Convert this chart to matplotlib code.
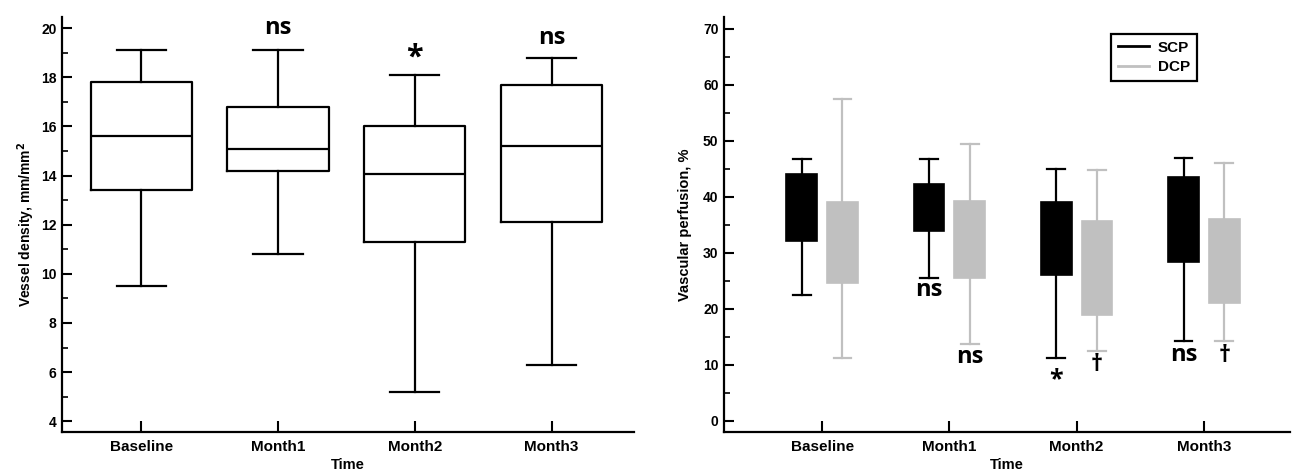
import matplotlib
matplotlib.use("Agg")
import matplotlib.pyplot as plt
from matplotlib.lines import Line2D
from matplotlib.ticker import MultipleLocator

plt.rcParams['font.family'] = ['Liberation Sans', 'DejaVu Sans']
plt.rcParams['font.weight'] = 'bold'

categories = ["Baseline", "Month1", "Month2", "Month3"]

# Left: vessel density
vd_whishi = [19.1, 19.1, 18.1, 18.8]
vd_q3 = [17.8, 16.8, 16.0, 17.7]
vd_med = [15.6, 15.1, 14.05, 15.2]
vd_q1 = [13.4, 14.2, 11.3, 12.1]
vd_whislo = [9.5, 10.8, 5.2, 6.3]
vd_marks = ["", "ns", "*", "ns"]
vd_mark_y = [0, 20.0, 18.8, 19.6]

# Right: vascular perfusion
scp_whishi = [46.8, 46.8, 45.0, 47.0]
scp_q3 = [44.0, 42.2, 39.0, 43.6]
scp_q1 = [32.1, 33.9, 26.0, 28.3]
scp_whislo = [22.4, 25.5, 11.2, 14.3]
dcp_whishi = [57.5, 49.5, 44.8, 46.1]
dcp_q3 = [39.0, 39.2, 35.7, 36.0]
dcp_q1 = [24.6, 25.5, 18.8, 21.1]
dcp_whislo = [11.2, 13.7, 12.5, 14.3]
scp_marks = ["", "ns", "*", "ns"]
scp_mark_y = [0, 23.3, 7.3, 11.8]
dcp_marks = ["", "ns", "\u2020", "\u2020"]
dcp_mark_y = [0, 11.3, 10.0, 11.6]

BLACK = "#000000"
GRAY = "#c0c0c0"

fig = plt.figure(figsize=(12.93, 4.73), dpi=100)
ax1 = fig.add_axes([0.048, 0.087, 0.442, 0.877])
ax2 = fig.add_axes([0.560, 0.087, 0.438, 0.877])

def style_axes(ax):
    for s in ("top", "right"):
        ax.spines[s].set_visible(False)
    for s in ("left", "bottom"):
        ax.spines[s].set_linewidth(1.6)
    ax.tick_params(axis='y', which='major', direction='in', length=7, width=1.5, labelsize=10, pad=4)
    ax.tick_params(axis='y', which='minor', direction='in', length=4, width=1.2)
    ax.tick_params(axis='x', which='major', direction='in', length=8, width=1.5, labelsize=11, pad=6)
    for lab in ax.get_xticklabels() + ax.get_yticklabels():
        lab.set_fontweight('bold')

# ---- Left panel ----
pos = list(range(len(categories)))
stats1 = [dict(med=m, q1=a, q3=b, whislo=lo, whishi=hi, fliers=[])
          for m, a, b, lo, hi in zip(vd_med, vd_q1, vd_q3, vd_whislo, vd_whishi)]
lp = dict(color=BLACK, linewidth=1.6)
ax1.bxp(stats1, positions=pos, widths=0.74, boxprops=lp, whiskerprops=lp,
        capprops=lp, medianprops=lp, capwidths=0.36, showfliers=False, manage_ticks=False)
ax1.set_xlim(-0.58, 3.60)
ax1.set_ylim(3.57, 20.45)
ax1.set_yticks([4, 6, 8, 10, 12, 14, 16, 18, 20])
ax1.yaxis.set_minor_locator(MultipleLocator(1))
ax1.set_xticks(pos)
ax1.set_xticklabels(categories)
ax1.set_xlabel("Time", fontsize=10.5, fontweight='bold', labelpad=3)
ax1.set_ylabel("Vessel density, mm/mm$^\\mathbf{2}$", fontsize=10, fontweight='bold', labelpad=3)
style_axes(ax1)
for p, t, y in zip(pos, vd_marks, vd_mark_y):
    if t:
        ax1.text(p, y, t, ha='center', va='center', fontsize=22 if t == "*" else 17,
                 fontweight='bold', family=['Open Sans', 'DejaVu Sans'])

# ---- Right panel ----
off = 0.16
w = 0.24
pos_s = [p - off for p in pos]
pos_d = [p + off for p in pos]
stats_s = [dict(med=(a + b) / 2, q1=a, q3=b, whislo=lo, whishi=hi, fliers=[])
           for a, b, lo, hi in zip(scp_q1, scp_q3, scp_whislo, scp_whishi)]
stats_d = [dict(med=(a + b) / 2, q1=a, q3=b, whislo=lo, whishi=hi, fliers=[])
           for a, b, lo, hi in zip(dcp_q1, dcp_q3, dcp_whislo, dcp_whishi)]
for st, ps, c in ((stats_s, pos_s, BLACK), (stats_d, pos_d, GRAY)):
    lp2 = dict(color=c, linewidth=1.6)
    ax2.bxp(st, positions=ps, widths=w, patch_artist=True,
            boxprops=dict(facecolor=c, edgecolor=c, linewidth=1.2),
            whiskerprops=lp2, capprops=lp2, medianprops=dict(color=c, linewidth=0),
            capwidths=0.14, showfliers=False, manage_ticks=False)
ax2.set_xlim(-0.77, 3.68)
ax2.set_ylim(-2.0, 72.1)
ax2.set_yticks([0, 10, 20, 30, 40, 50, 60, 70])
ax2.yaxis.set_minor_locator(MultipleLocator(5))
ax2.set_xticks(pos)
ax2.set_xticklabels(categories)
ax2.set_xlabel("Time", fontsize=10.5, fontweight='bold', labelpad=3)
ax2.set_ylabel("Vascular perfusion, %", fontsize=10.5, fontweight='bold', labelpad=8)
style_axes(ax2)
for ps, t, y in list(zip(pos_s, scp_marks, scp_mark_y)) + list(zip(pos_d, dcp_marks, dcp_mark_y)):
    if t:
        ax2.text(ps, y, t, ha='center', va='center', fontsize=18 if t == "*" else 17,
                 fontweight='bold', family=['Open Sans', 'DejaVu Sans'])

handles = [Line2D([], [], color=BLACK, linewidth=2), Line2D([], [], color=GRAY, linewidth=2)]
leg = ax2.legend(handles, ["SCP", "DCP"], loc='upper left', bbox_to_anchor=(0.67, 0.978),
                 fancybox=False, edgecolor=BLACK, framealpha=1, handlelength=2.0,
                 handletextpad=0.6, borderpad=0.45, labelspacing=0.35,
                 prop=dict(weight='bold', size=11))
leg.get_frame().set_linewidth(1.6)

fig.savefig("out.png", dpi=100)
